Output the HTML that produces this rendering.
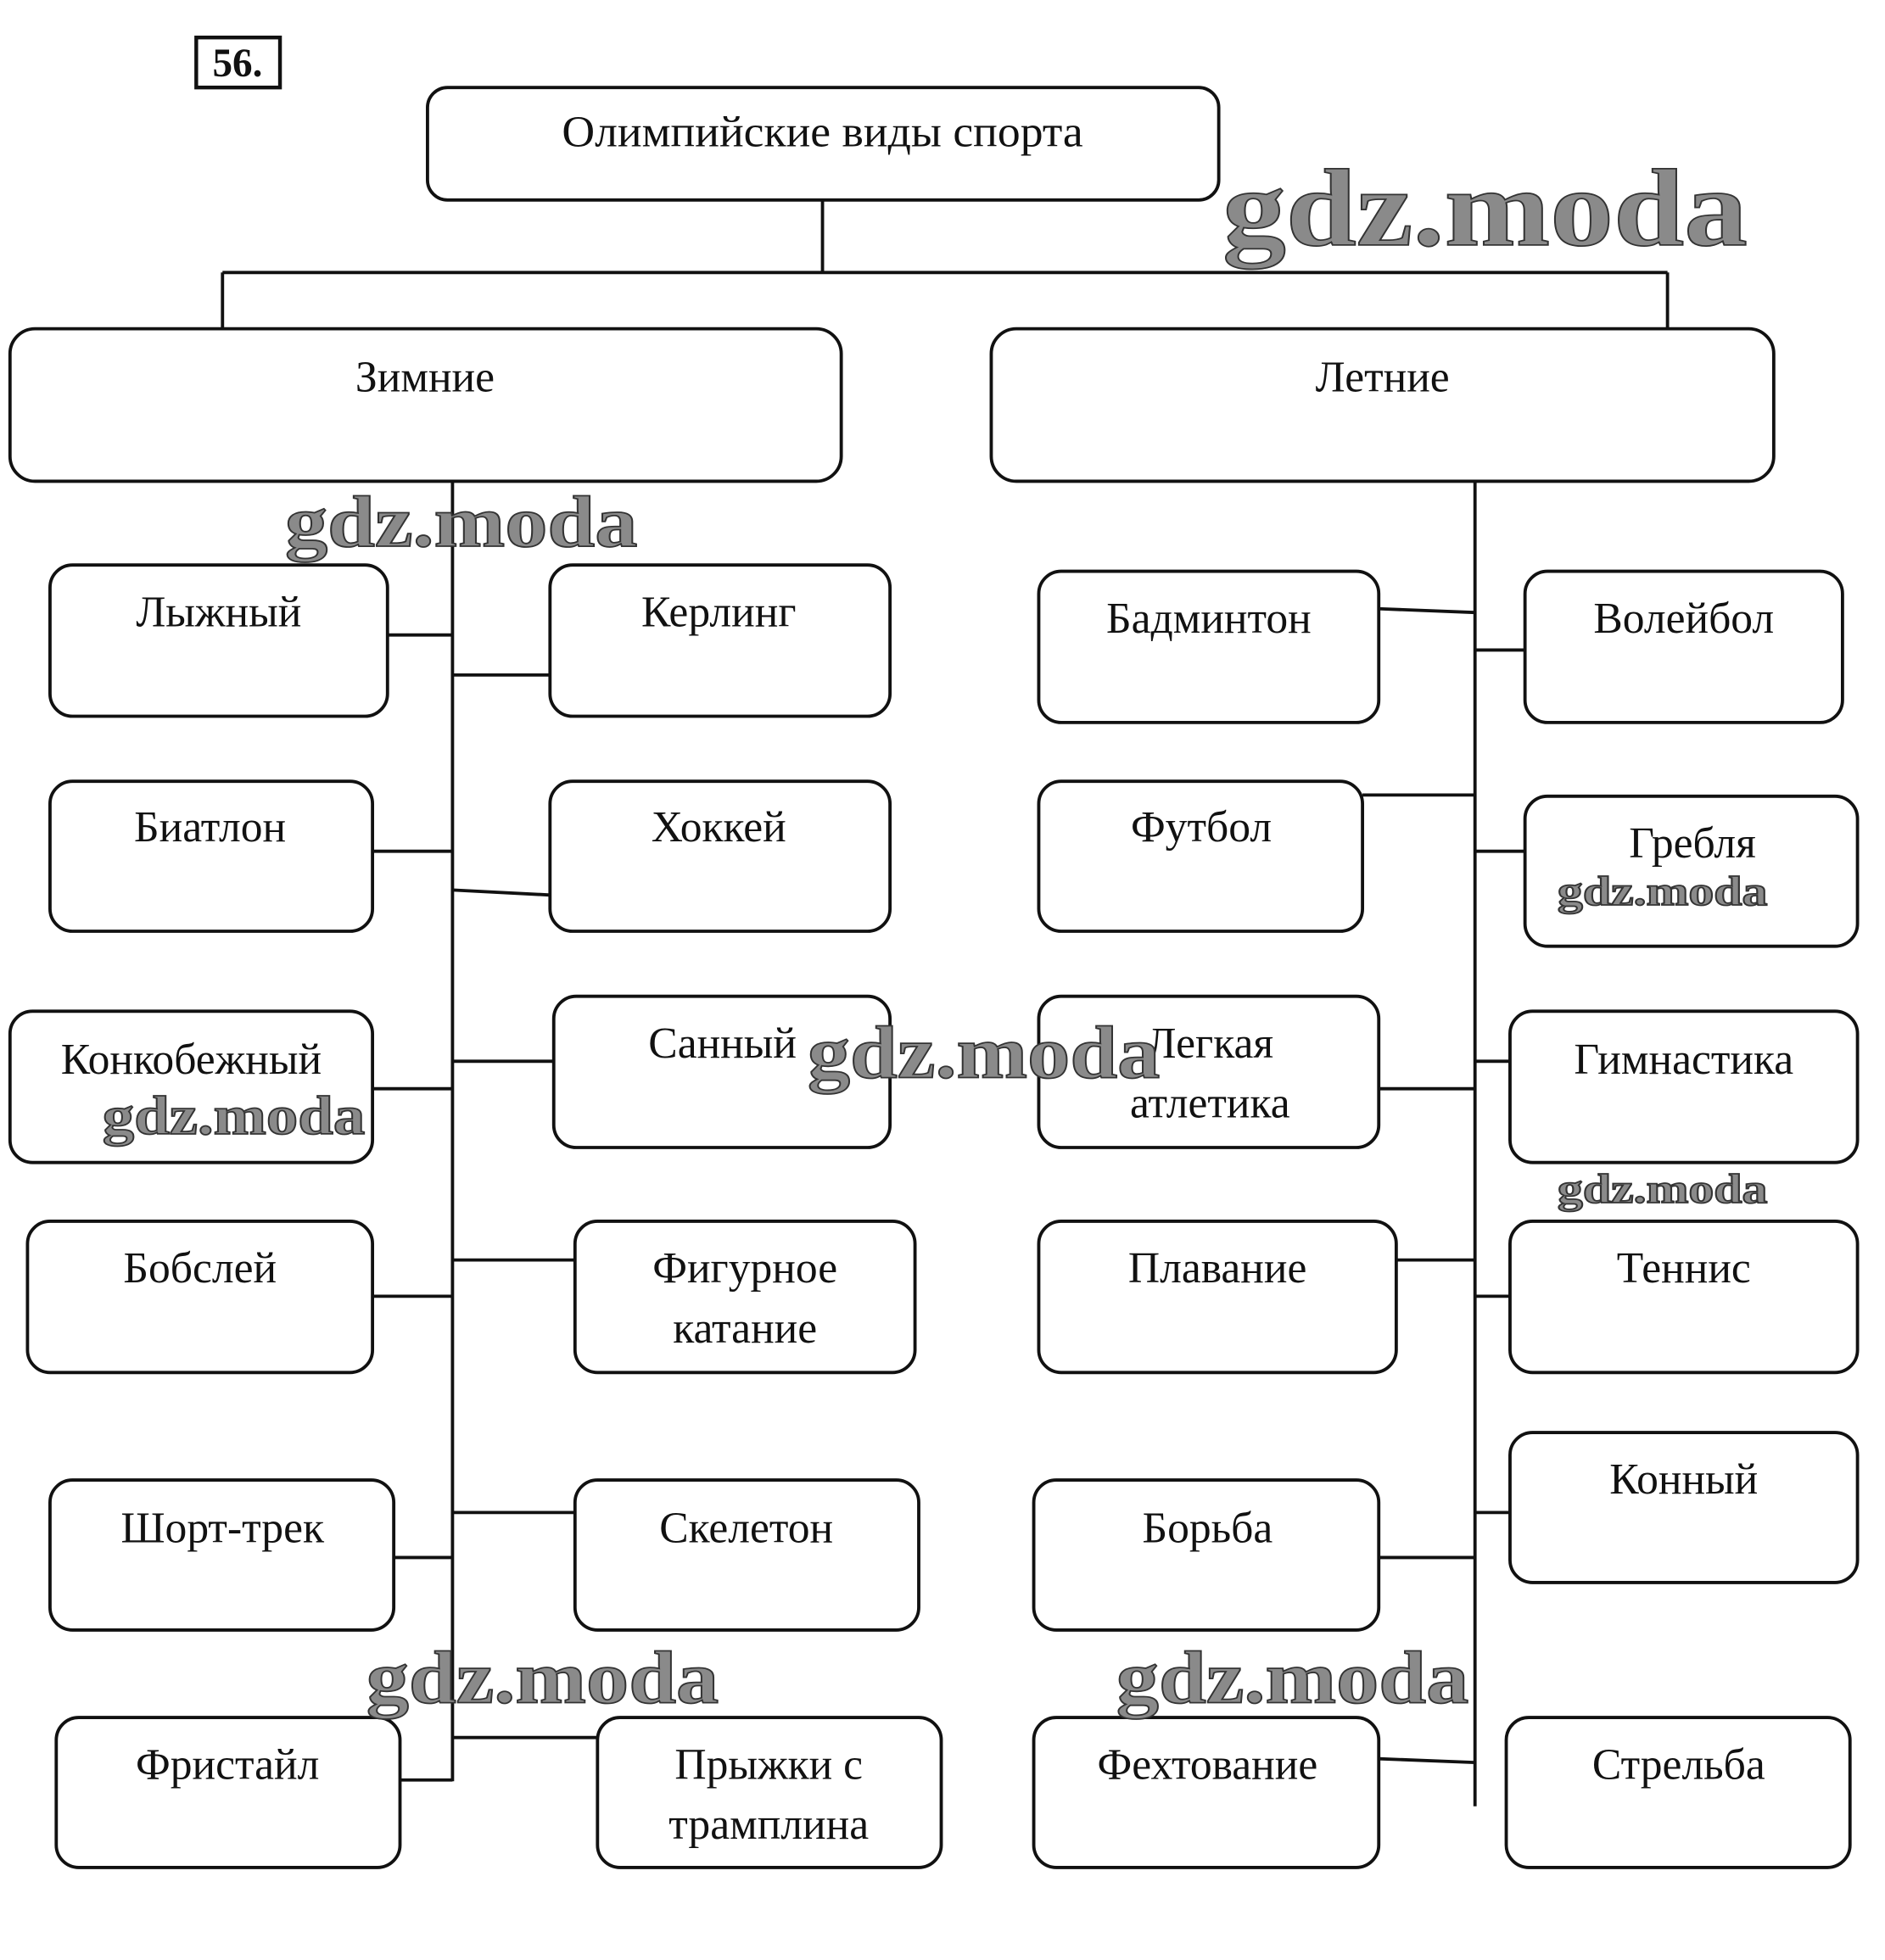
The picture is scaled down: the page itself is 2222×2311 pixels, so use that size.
<!DOCTYPE html>
<html><head><meta charset="utf-8"><style>
html,body{margin:0;padding:0;background:#fff}
svg{display:block}
text{font-family:"Liberation Serif",serif;fill:#111}
text.w{font-family:"Liberation Serif",serif;font-weight:bold;fill:#8a8a8a;stroke:#333;stroke-width:1.2}
</style></head><body>
<svg width="2222" height="2311" viewBox="0 0 1508 1568" preserveAspectRatio="none" xmlns="http://www.w3.org/2000/svg">
<g fill="none" stroke="#111" stroke-width="2.6">
<rect x="157" y="30" width="67" height="40" stroke-width="3"/>
<rect x="342" y="70" width="633" height="90" rx="16"/>
<path d="M658 160V218M178 218H1334M178 218V263M1334 218V263"/>
<rect x="8" y="263" width="665" height="122" rx="20"/>
<rect x="793" y="263" width="626" height="122" rx="20"/>
<path d="M362 385V1425M1180 385V1445"/>
<rect x="40" y="452" width="270" height="121" rx="18"/>
<rect x="440" y="452" width="272" height="121" rx="18"/>
<rect x="40" y="625" width="258" height="120" rx="18"/>
<rect x="440" y="625" width="272" height="120" rx="18"/>
<rect x="8" y="809" width="290" height="121" rx="18"/>
<rect x="443" y="797" width="269" height="121" rx="18"/>
<rect x="22" y="977" width="276" height="121" rx="18"/>
<rect x="460" y="977" width="272" height="121" rx="18"/>
<rect x="40" y="1184" width="275" height="120" rx="18"/>
<rect x="460" y="1184" width="275" height="120" rx="18"/>
<rect x="45" y="1374" width="275" height="120" rx="18"/>
<rect x="478" y="1374" width="275" height="120" rx="18"/>
<path d="M310 508H362M362 540H440M298 681H362M362 712L440 716M298 871H362M362 849H443M298 1037H362M362 1008H460M315 1246H362M362 1210H460M320 1424H362M362 1390H478"/>
<rect x="831" y="457" width="272" height="121" rx="18"/>
<rect x="1220" y="457" width="254" height="121" rx="18"/>
<rect x="831" y="625" width="259" height="120" rx="18"/>
<rect x="1220" y="637" width="266" height="120" rx="18"/>
<rect x="831" y="797" width="272" height="121" rx="18"/>
<rect x="1208" y="809" width="278" height="121" rx="18"/>
<rect x="831" y="977" width="286" height="121" rx="18"/>
<rect x="1208" y="977" width="278" height="121" rx="18"/>
<rect x="827" y="1184" width="276" height="120" rx="18"/>
<rect x="1208" y="1146" width="278" height="120" rx="18"/>
<rect x="827" y="1374" width="276" height="120" rx="18"/>
<rect x="1205" y="1374" width="275" height="120" rx="18"/>
<path d="M1103 487L1180 490M1180 520H1220M1090 636H1180M1180 681H1220M1103 871H1180M1180 849H1208M1117 1008H1180M1180 1037H1208M1103 1246H1180M1180 1210H1208M1103 1407L1180 1410"/>
</g>
<g font-size="35" text-anchor="middle">
<text x="190" y="61" font-weight="bold" font-size="32">56.</text>
<text x="658" y="117" textLength="417" lengthAdjust="spacingAndGlyphs">Олимпийские виды спорта</text>
<text x="340" y="313">Зимние</text>
<text x="1106" y="313">Летние</text>
<text x="175" y="501">Лыжный</text>
<text x="575" y="501">Керлинг</text>
<text x="168" y="673">Биатлон</text>
<text x="575" y="673">Хоккей</text>
<text x="153" y="859">Конкобежный</text>
<text x="578" y="846">Санный</text>
<text x="160" y="1026">Бобслей</text>
<text x="596" y="1026">Фигурное</text>
<text x="596" y="1074">катание</text>
<text x="178" y="1234">Шорт-трек</text>
<text x="597" y="1234">Скелетон</text>
<text x="182" y="1423">Фристайл</text>
<text x="615" y="1423">Прыжки с</text>
<text x="615" y="1471">трамплина</text>
<text x="967" y="506">Бадминтон</text>
<text x="1347" y="506">Волейбол</text>
<text x="961" y="673">Футбол</text>
<text x="1354" y="686">Гребля</text>
<text x="968" y="846">Легкая</text>
<text x="968" y="894">атлетика</text>
<text x="1347" y="859">Гимнастика</text>
<text x="974" y="1026">Плавание</text>
<text x="1347" y="1026">Теннис</text>
<text x="966" y="1234">Борьба</text>
<text x="1347" y="1195">Конный</text>
<text x="966" y="1423">Фехтование</text>
<text x="1343" y="1423">Стрельба</text>
</g>
<text class="w" x="978" y="196" font-size="88" textLength="420" lengthAdjust="spacingAndGlyphs">gdz.moda</text>
<text class="w" x="228" y="437" font-size="58" textLength="282" lengthAdjust="spacingAndGlyphs">gdz.moda</text>
<text class="w" x="82" y="907" font-size="44" textLength="210" lengthAdjust="spacingAndGlyphs">gdz.moda</text>
<text class="w" x="646" y="862" font-size="60" textLength="282" lengthAdjust="spacingAndGlyphs">gdz.moda</text>
<text class="w" x="1246" y="724" font-size="33" textLength="168" lengthAdjust="spacingAndGlyphs">gdz.moda</text>
<text class="w" x="1246" y="962" font-size="33" textLength="168" lengthAdjust="spacingAndGlyphs">gdz.moda</text>
<text class="w" x="293" y="1362" font-size="60" textLength="282" lengthAdjust="spacingAndGlyphs">gdz.moda</text>
<text class="w" x="893" y="1362" font-size="60" textLength="282" lengthAdjust="spacingAndGlyphs">gdz.moda</text>
</svg>
</body></html>
